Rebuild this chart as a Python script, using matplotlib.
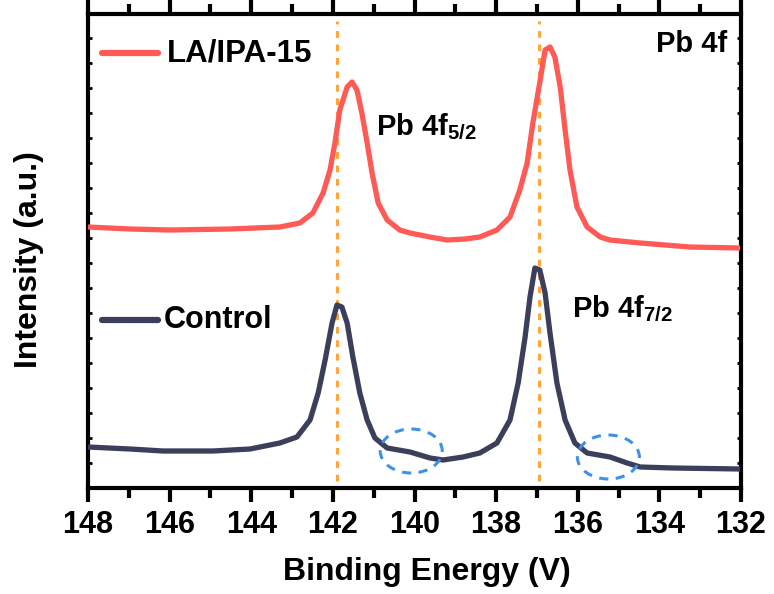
import matplotlib
matplotlib.use("Agg")
import matplotlib.pyplot as plt
from matplotlib.patches import Ellipse
import numpy as np

plt.rcParams['font.family'] = ['Liberation Sans', 'DejaVu Sans']
plt.rcParams['font.weight'] = 'bold'
plt.rcParams['mathtext.fontset'] = 'custom'
plt.rcParams['mathtext.bf'] = 'Liberation Sans:bold'
plt.rcParams['mathtext.rm'] = 'Liberation Sans:bold'

# Binding energy (eV) and intensity (a.u.)
energy_la = [148.00, 146.97, 145.99, 144.52, 143.30, 142.81, 142.49, 142.24, 142.07, 141.95,
             141.83, 141.65, 141.53, 141.41, 141.29, 141.16, 141.04, 140.89, 140.67, 140.36,
             140.11, 139.62, 139.20, 138.76, 138.40, 137.98, 137.66, 137.42, 137.24, 137.10,
             136.92, 136.80, 136.68, 136.56, 136.43, 136.31, 136.19, 136.02, 135.77, 135.45,
             135.21, 134.47, 133.25, 132.02]
intensity_la = [261, 259, 258, 259, 261, 265, 275, 295, 318, 345,
                378, 401, 406, 398, 375, 345, 315, 285, 268, 258,
                255, 251, 248, 249, 251, 258, 271, 298, 325, 365,
                408, 438, 441, 431, 401, 358, 318, 281, 261, 251,
                248, 245, 241, 240]

energy_ctrl = [148.00, 146.97, 146.16, 144.94, 144.03, 143.30, 142.88, 142.56, 142.36, 142.19,
               142.02, 141.90, 141.78, 141.65, 141.51, 141.34, 141.16, 140.97, 140.67, 140.11,
               139.62, 139.30, 138.81, 138.40, 137.98, 137.66, 137.46, 137.29, 137.17, 137.05,
               136.93, 136.80, 136.68, 136.51, 136.31, 136.07, 135.77, 135.21, 134.79, 134.47,
               133.67, 132.02]
intensity_ctrl = [41, 39, 37, 37, 39, 45, 51, 68, 95, 128,
                  165, 183, 181, 165, 131, 95, 68, 50, 40, 36,
                  30, 28, 31, 35, 45, 68, 105, 151, 191, 220,
                  218, 195, 155, 105, 68, 45, 35, 31, 25, 21,
                  20, 19]

peak_lines = [141.89, 136.96]
ellipse_centers = [(140.08, 37), (135.25, 31)]
xticks = [148, 146, 144, 142, 140, 138, 136, 134, 132]

red = '#FF5A55'
navy = '#3B3F5C'
orange = '#FFA53A'
blue = '#3C92E8'

fig = plt.figure(figsize=(7.74, 5.94), dpi=100)
ax = fig.add_axes([88/774, 106/594, 653/774, 474/594])

ax.plot(energy_la, intensity_la, color=red, lw=3.8, solid_capstyle='butt',
        solid_joinstyle='round', zorder=3)
ax.plot(energy_ctrl, intensity_ctrl, color=navy, lw=3.8, solid_capstyle='butt',
        solid_joinstyle='round', zorder=3)

for e in peak_lines:
    ax.axvline(e, ymin=0.015, ymax=0.985, color=orange, ls=(0, (2.2, 2.2)), lw=2.2, zorder=2)

for (cx, cy) in ellipse_centers:
    ax.add_patch(Ellipse((cx, cy), 1.52, 44, fill=False, ec=blue, lw=2.2,
                         ls=(0, (3, 2.5)), zorder=4))

ax.set_xlim(148, 132)
ax.set_ylim(0, 474)
ax.set_xticks(xticks)
ax.set_xticks(np.arange(132, 149, 1), minor=True)
ax.set_xticklabels([str(t) for t in xticks], fontsize=22, fontweight='bold')
ax.set_yticks(np.arange(0, 475, 25))
ax.set_yticklabels([])
ax.tick_params(axis='x', which='major', direction='out', length=10, width=3, pad=6)
ax.tick_params(axis='x', which='minor', direction='out', length=7, width=3)
ax.tick_params(axis='y', which='major', direction='in', length=3, width=2, left=True, right=True)
ax.tick_params(axis='x', which='both', top=True, labeltop=False)
for s in ax.spines.values():
    s.set_linewidth(3)

ax.set_xlabel('Binding Energy (V)', fontsize=23, fontweight='bold')
ax.set_ylabel('Intensity (a.u.)', fontsize=23, fontweight='bold')
ax.xaxis.set_label_coords(0.519, -0.145)
ax.yaxis.set_label_coords(-0.068, 0.481)

# legend-like labels
ax.plot([147.66, 146.28], [435, 435], color=red, lw=4.5, solid_capstyle='round')
ax.text(146.06, 426, 'LA/IPA-15', fontsize=22.5, fontweight='bold', ha='left', va='baseline')
ax.plot([147.66, 146.28], [168, 168], color=navy, lw=4.5, solid_capstyle='round')
ax.text(146.14, 160, 'Control', fontsize=22, fontweight='bold', ha='left', va='baseline')

ax.text(132.34, 436, 'Pb 4f', fontsize=21, fontweight='bold', ha='right', va='baseline')
ax.text(140.94, 353, r'Pb 4f$_{\mathbf{5/2}}$', fontsize=21, fontweight='bold', ha='left', va='baseline')
ax.text(136.14, 171, r'Pb 4f$_{\mathbf{7/2}}$', fontsize=21, fontweight='bold', ha='left', va='baseline')

fig.savefig('out.png', dpi=100)
